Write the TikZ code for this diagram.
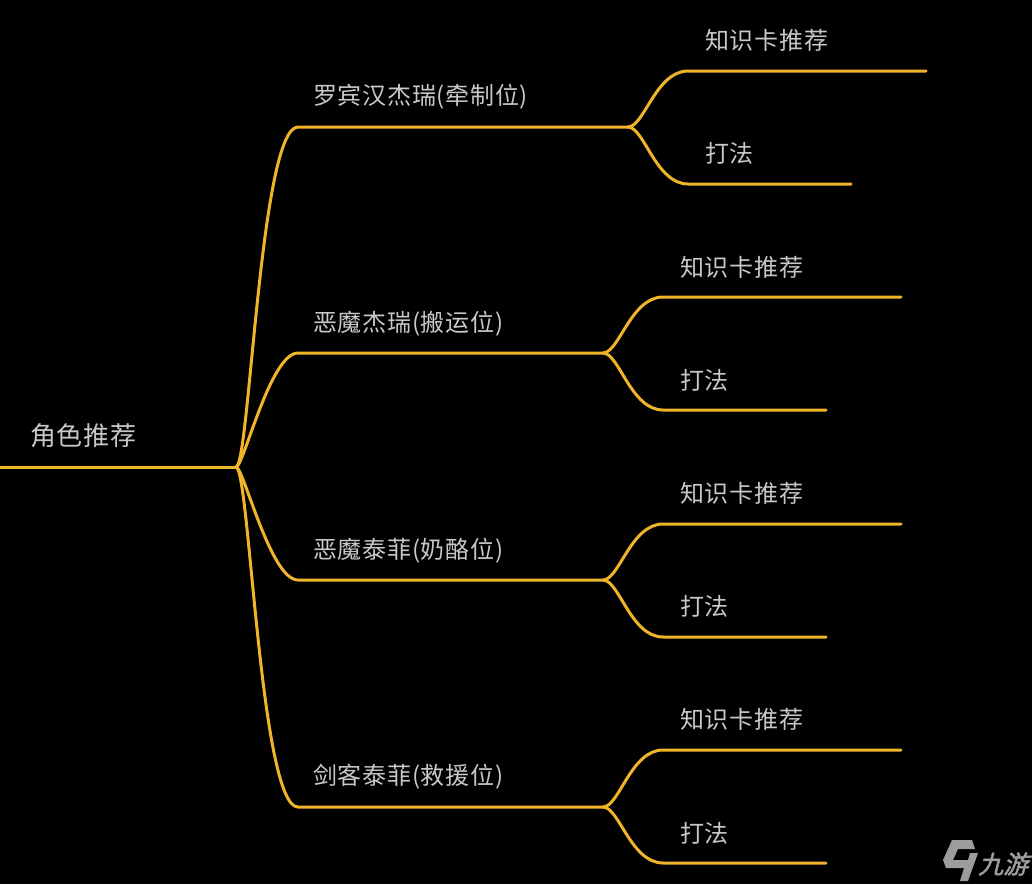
\documentclass[tikz,border=0pt]{standalone}
\usepackage{fontspec}
\newfontfamily\cjk[LetterSpace=3]{Noto Sans CJK SC}
\newfontfamily\markfont[FakeSlant=.25,FakeBold=2]{Noto Sans CJK SC}
\definecolor{gold}{HTML}{F0B429}
\definecolor{ash}{HTML}{C8C8C8}
\definecolor{markgrey}{HTML}{9C9C9C}
\tikzset{
	limb/.style={draw=gold, line width=3pt, line cap=round},
	twig/.style={out=0, in=180, out looseness=.5, in looseness=1},
	far/.style={out=0, in=180, out looseness=.1, in looseness=.28},
	near/.style={out=0, in=180, out looseness=.15, in looseness=.55},
	tag/.style={anchor=west, inner sep=0pt, text=ash, font=\fontsize{24}{24}\cjk},
	wmark/.style={fill=markgrey, draw=none},
}

\begin{document}
\begin{tikzpicture}[x=1pt,y=-1pt]
	\fill[black] (0,0) rectangle (1032,884);
	\useasboundingbox (0,0) rectangle (1032,884);
	% root
	\coordinate (rootL) at (0,467);
	\coordinate (hub) at (236,467);
	\node[tag, font=\fontsize{26}{26}\cjk] (root) at (30,436) {角色推荐};
	\draw[limb] (rootL) -- (hub);
	% four roles
	\coordinate (a0) at (298,127);
	\coordinate (a1) at (628,127);
	\coordinate (b0) at (298,353);
	\coordinate (b1) at (603,353);
	\coordinate (c0) at (298,580);
	\coordinate (c1) at (603,580);
	\coordinate (d0) at (298,807);
	\coordinate (d1) at (603,807);
	\draw[limb] (hub) to[far] (a0) -- (a1);
	\draw[limb] (hub) to[near] (b0) -- (b1);
	\draw[limb] (hub) to[near] (c0) -- (c1);
	\draw[limb] (hub) to[far] (d0) -- (d1);
	\node[tag] (roleA) at (313,97) {罗宾汉杰瑞(牵制位)};
	\node[tag] (roleB) at (313,324) {恶魔杰瑞(搬运位)};
	\node[tag] (roleC) at (313,551) {恶魔泰菲(奶酪位)};
	\node[tag] (roleD) at (313,777) {剑客泰菲(救援位)};
	% first role
	\coordinate (a2) at (688,71);
	\coordinate (a3) at (926,71);
	\coordinate (a4) at (688,184);
	\coordinate (a5) at (851,184);
	\draw[limb] (a1) to[twig] (a2) -- (a3);
	\draw[limb] (a1) to[twig] (a4) -- (a5);
	\node[tag] (cardA) at (705,40) {知识卡推荐};
	\node[tag] (playA) at (705,153) {打法};
	% second role
	\coordinate (b2) at (663,297);
	\coordinate (b3) at (901,297);
	\coordinate (b4) at (663,410);
	\coordinate (b5) at (826,410);
	\draw[limb] (b1) to[twig] (b2) -- (b3);
	\draw[limb] (b1) to[twig] (b4) -- (b5);
	\node[tag] (cardB) at (680,267) {知识卡推荐};
	\node[tag] (playB) at (680,380) {打法};
	% third role
	\coordinate (c2) at (663,524);
	\coordinate (c3) at (901,524);
	\coordinate (c4) at (663,637);
	\coordinate (c5) at (826,637);
	\draw[limb] (c1) to[twig] (c2) -- (c3);
	\draw[limb] (c1) to[twig] (c4) -- (c5);
	\node[tag] (cardC) at (680,493) {知识卡推荐};
	\node[tag] (playC) at (680,606) {打法};
	% fourth role
	\coordinate (d2) at (663,750);
	\coordinate (d3) at (901,750);
	\coordinate (d4) at (663,863);
	\coordinate (d5) at (826,863);
	\draw[limb] (d1) to[twig] (d2) -- (d3);
	\draw[limb] (d1) to[twig] (d4) -- (d5);
	\node[tag] (cardD) at (680,719) {知识卡推荐};
	\node[tag] (playD) at (680,833) {打法};
	% watermark
	\fill[wmark] (952,840) -- (972,840) -- (975,849) -- (958,849) -- (953,860) -- (968,860) -- (970,853) -- (978,853) -- (968,881) -- (960,881) -- (964,868) -- (946,868) -- (943,860) -- cycle;
	\node[inner sep=0pt, anchor=west, text=markgrey, font=\fontsize{25}{25}\markfont] (wmark) at (978,864) {九游};
\end{tikzpicture}
\end{document}
